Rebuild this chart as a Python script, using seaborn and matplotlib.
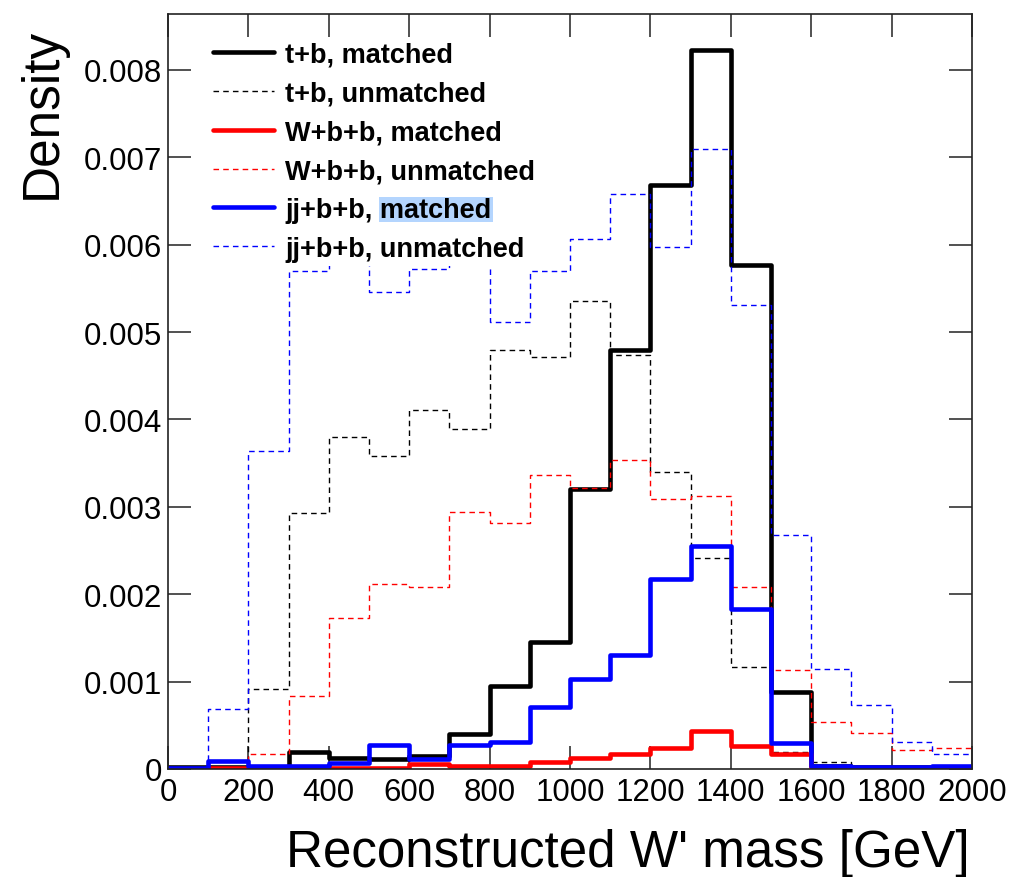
import numpy as np
import pandas as pd
import matplotlib
matplotlib.use('Agg')
import matplotlib.pyplot as plt
from matplotlib.patches import Rectangle
from matplotlib.transforms import IdentityTransform
import seaborn as sns

sns.set_style('ticks')
plt.rcParams['font.family'] = ['Liberation Sans', 'DejaVu Sans']
plt.rcParams.update({'text.color': 'black', 'axes.labelcolor': 'black',
                     'xtick.color': 'black', 'ytick.color': 'black'})

# histogram binning, 100 GeV bins from 0 to 2000
bin_edges = list(range(0, 2001, 100))
bin_centers = [e + 50 for e in bin_edges[:-1]]

# densities, one value per bin
tb_matched = [0.00002, 0.00002, 0.00002, 0.00020, 0.00013, 0.00012, 0.00015, 0.00040, 0.00095, 0.00145,
              0.00320, 0.00479, 0.00668, 0.00823, 0.00577, 0.00088, 0.00004, 0.00002, 0.00002, 0.00001]
tb_unmatched = [0.0, 0.00002, 0.00092, 0.00293, 0.00380, 0.00358, 0.00411, 0.00389, 0.00479, 0.00472,
                0.00535, 0.00474, 0.00340, 0.00241, 0.00117, 0.00020, 0.00008, 0.00002, 0.00002, 0.00001]
wbb_matched = [0.0, 0.00001, 0.00001, 0.00001, 0.00001, 0.00001, 0.00006, 0.00004, 0.00003, 0.00008,
               0.00013, 0.00017, 0.00024, 0.00043, 0.00026, 0.00017, 0.00002, 0.00001, 0.00001, 0.00001]
wbb_unmatched = [0.0, 0.00001, 0.00017, 0.00084, 0.00173, 0.00212, 0.00208, 0.00294, 0.00282, 0.00337,
                 0.00322, 0.00354, 0.00309, 0.00312, 0.00208, 0.00113, 0.00054, 0.00041, 0.00022, 0.00024]
jjbb_matched = [0.00001, 0.00009, 0.00003, 0.00004, 0.00007, 0.00027, 0.00011, 0.00027, 0.00031, 0.00071,
                0.00103, 0.00131, 0.00217, 0.00255, 0.00183, 0.00030, 0.00003, 0.00002, 0.00002, 0.00004]
jjbb_unmatched = [0.0, 0.00069, 0.00364, 0.00570, 0.00610, 0.00546, 0.00572, 0.00600, 0.00512, 0.00570,
                  0.00607, 0.00658, 0.00597, 0.00709, 0.00531, 0.00268, 0.00115, 0.00073, 0.00031, 0.00017]

labels = ['t+b, matched', 't+b, unmatched', 'W+b+b, matched', 'W+b+b, unmatched',
          'jj+b+b, matched', 'jj+b+b, unmatched']
series = [tb_matched, tb_unmatched, wbb_matched, wbb_unmatched, jjbb_matched, jjbb_unmatched]
colors = ['black', 'black', '#ff0000', '#ff0000', '#0000ff', '#0000ff']

x_ticks = [0, 200, 400, 600, 800, 1000, 1200, 1400, 1600, 1800, 2000]
x_ticklabels = ['0', '200', '400', '600', '800', '1000', '1200', '1400', '1600', '1800', '2000']
y_ticks = [0, 0.001, 0.002, 0.003, 0.004, 0.005, 0.006, 0.007, 0.008]
y_ticklabels = ['0', '0.001', '0.002', '0.003', '0.004', '0.005', '0.006', '0.007', '0.008']

fig = plt.figure(figsize=(10.09, 8.78), dpi=100)
ax = fig.add_axes([168 / 1009, 1 - 770 / 878, 804 / 1009, 755 / 878])

for i, (lab, vals, col) in enumerate(zip(labels, series, colors)):
    d = pd.DataFrame({'mass': bin_centers, 'density': vals})
    solid = 'unmatched' not in lab
    kw = dict(linewidth=3.3) if solid else dict(linewidth=1.0, dashes=(4, 3))
    sns.histplot(data=d, x='mass', weights='density', bins=bin_edges, element='step', fill=False,
                 stat='count', color=col, label=lab, ax=ax, zorder=2 + i * 0.1, **kw)

ax.set_xlim(0, 2000)
ax.set_ylim(0, 0.00864)
ax.set_xticks(x_ticks, x_ticklabels)
ax.set_yticks(y_ticks, y_ticklabels)
ax.tick_params(direction='in', length=16.5, width=1.1, color='#222222', labelcolor='black',
               labelsize=22.5, top=True, right=True)
ax.tick_params(axis='x', pad=5.5)
ax.tick_params(axis='y', pad=4)
for s in ax.spines.values():
    s.set_linewidth(1.2)
    s.set_color('#222222')

ax.set_xlabel("Reconstructed W' mass [GeV]", fontsize=36.8, loc='right')
ax.xaxis.set_label_coords(0.9975, -0.078)
ax.set_ylabel('Density', fontsize=37, loc='top')
ax.yaxis.set_label_coords(-0.1262, 0.983)

# white legend area that hides the lines behind it
ax.add_patch(Rectangle((0.04, 0.666), 0.433, 0.301, transform=ax.transAxes,
                       facecolor='white', edgecolor='none', zorder=4))

leg = ax.legend(loc='upper left', bbox_to_anchor=(0.056, 0.963), frameon=False,
                prop={'weight': 'bold', 'size': 19.5}, handlelength=2.25,
                handletextpad=0.42, labelspacing=0.47, borderpad=0, borderaxespad=0)

# light blue selection highlight behind "matched" in the jj+b+b row
fig.canvas.draw()
renderer = fig.canvas.get_renderer()
t = leg.get_texts()[4]
fp = t.get_fontproperties()
bx, by = t.get_transform().transform(t.get_position())
w_full = renderer.get_text_width_height_descent(t.get_text(), fp, ismath=False)[0]
w_m = renderer.get_text_width_height_descent('matched', fp, ismath=False)[0]
hl = Rectangle((bx + w_full - w_m - 1, by - 5), w_m + 2, 25, transform=IdentityTransform(),
               facecolor='#b4d5fe', edgecolor='none', zorder=4.5)
ax.add_artist(hl)

fig.savefig('out.png', dpi=100)
